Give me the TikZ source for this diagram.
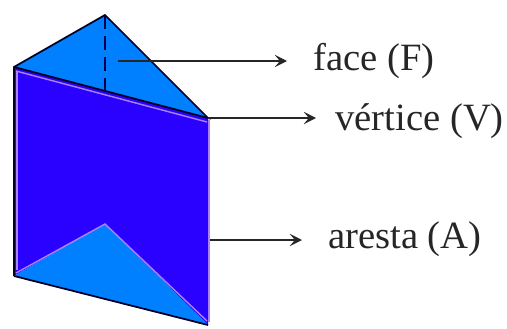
\documentclass[tikz,border=0pt]{standalone}
\usepackage{fontspec}
\setmainfont{Liberation Serif}
\usetikzlibrary{arrows.meta}
\definecolor{frontblue}{RGB}{42,0,255}
\definecolor{faceblue}{RGB}{0,128,255}
\definecolor{edgelilac}{RGB}{170,130,255}
\tikzset{
  face/.style={fill=faceblue, draw=none},
  front/.style={fill=frontblue, draw=none},
  edge/.style={draw=black!85!blue, line width=1.0pt},
  glow/.style={draw=edgelilac, line width=0.8pt},
  hidden/.style={draw=black!70!blue, line width=1.0pt, dash pattern=on 8pt off 4pt},
  pointer/.style={draw=black!85, line width=1.0pt, -{Stealth[length=7pt, width=7pt, inset=3pt]}},
  tag/.style={inner ysep=0pt, inner xsep=14.7pt, anchor=base west, font=\fontsize{22}{22}\selectfont, text=black!85}
}

\begin{document}
\begin{tikzpicture}[x=0.02cm, y=-0.02cm]
  \useasboundingbox (0,0) rectangle (507,328);
  \coordinate (apex) at (105,15);
  \coordinate (topleft) at (14,67);
  \coordinate (topright) at (208,118);
  \coordinate (botleft) at (14,276);
  \coordinate (botright) at (208,325);
  \coordinate (inner) at (105,224);
  \coordinate (foot) at (105,92);
  \coordinate (onface) at (118,61);
  \coordinate (onedge) at (210,240);

  \path[face] (apex) -- (topright) -- (topleft) -- cycle;
  \path[front] (topleft) -- (topright) -- (botright) -- (inner) -- (botleft) -- cycle;
  \path[face] (botleft) -- (inner) -- (botright) -- cycle;

  % light rims on the front
  \draw[glow] (17,72) -- (17,270);
  \draw[glow] (16,71) -- (207,122);
  \draw[glow] (209,120) -- (209,322);
  \draw[glow] (16,273) -- (inner) -- (207,321);

  \draw[edge] (botleft) -- (topleft) -- (apex) -- (topright) -- (topleft);
  \draw[edge] (botleft) -- (botright);
  \draw[hidden] (apex) -- (foot);

  \node[tag] (facetag) at (287,70) {face (F)};
  \node[tag, inner xsep=10.8pt] (vertextag) at (316,130) {vértice (V)};
  \node[tag] (edgetag) at (302,248) {aresta (A)};

  \draw[pointer] (onface) -- (onface -| facetag.west);
  \draw[pointer] (topright) -- (topright -| vertextag.west);
  \draw[pointer] (onedge) -- (onedge -| edgetag.west);
\end{tikzpicture}
\end{document}
